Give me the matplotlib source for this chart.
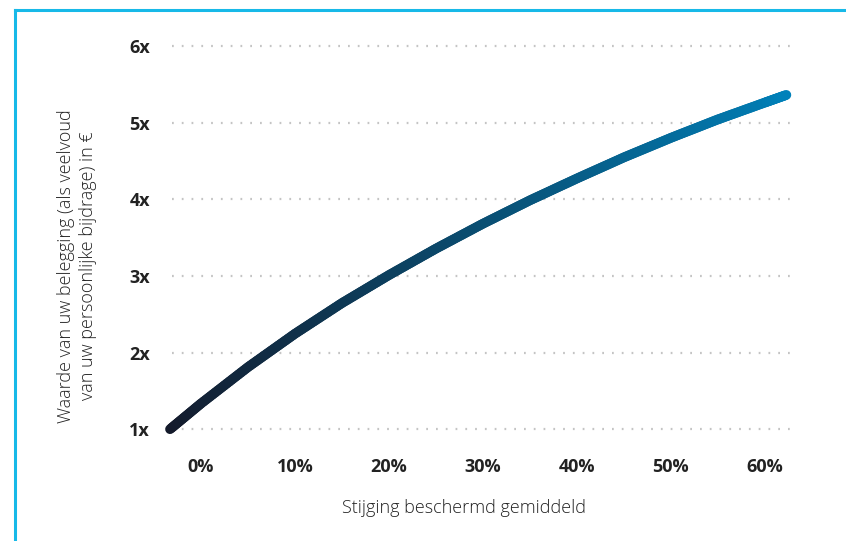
import numpy as np
import matplotlib.pyplot as plt
from matplotlib.collections import LineCollection
from matplotlib.lines import Line2D
from matplotlib.colors import LinearSegmentedColormap

plt.rcParams['font.family'] = ['Open Sans', 'DejaVu Sans']

# values
growth = [-3.3, 0, 5, 10, 15, 20, 25, 30, 35, 40, 45, 50, 55, 60, 62.3]
multiple = [1.00, 1.335, 1.81, 2.245, 2.645, 3.01, 3.355, 3.68, 3.985, 4.27, 4.545, 4.80, 5.04, 5.26, 5.36]
xticks = [0, 10, 20, 30, 40, 50, 60]
xlabels = ['0%', '10%', '20%', '30%', '40%', '50%', '60%']
yticks = [1, 2, 3, 4, 5, 6]
ylabels = ['1x', '2x', '3x', '4x', '5x', '6x']

fig = plt.figure(figsize=(8.46, 5.41), dpi=100)
ax = fig.add_axes([0.2033, 0.1996, 0.734, 0.7227])

# gradient line: split each straight segment into short pieces for the colour ramp
xs, ys = [], []
for i in range(len(growth) - 1):
    t = np.linspace(0, 1, 20, endpoint=False)
    xs.extend(growth[i] + t * (growth[i + 1] - growth[i]))
    ys.extend(multiple[i] + t * (multiple[i + 1] - multiple[i]))
xs.append(growth[-1]); ys.append(multiple[-1])
pts = np.array([xs, ys]).T.reshape(-1, 1, 2)
segs = np.concatenate([pts[:-1], pts[1:]], axis=1)
cmap = LinearSegmentedColormap.from_list('g', ['#141a2b', '#0a4e72', '#0081ba'])
lc = LineCollection(segs, cmap=cmap, linewidth=7, capstyle='round', joinstyle='round', zorder=3)
lc.set_array(np.linspace(0, 1, len(segs)))
lc.set_clip_on(False)
ax.add_collection(lc)

ax.set_xlim(-3.09, 63.0)
ax.set_ylim(0.95, 6.05)
for y in yticks:
    ax.axhline(y, color='#c4c4c4', linewidth=1.6, linestyle=(0, (0.8, 3.6)), zorder=1)

ax.set_xticks(xticks, xlabels)
ax.set_yticks(yticks, ylabels)
ax.tick_params(length=0, labelsize=13, colors='#222222')
ax.tick_params(axis='x', pad=18)
ax.tick_params(axis='y', pad=16)
for lab in ax.get_xticklabels() + ax.get_yticklabels():
    lab.set_fontweight('bold')
for s in ax.spines.values():
    s.set_visible(False)

fig.text(0.091, 0.508, 'Waarde van uw belegging (als veelvoud\nvan uw persoonlijke bijdrage) in €',
         rotation=90, ha='center', va='center', fontsize=13, color='#222222',
         fontweight='light', linespacing=1.3)
fig.text(0.548, 0.061, 'Stijging beschermd gemiddeld', ha='center', va='center',
         fontsize=13, color='#222222', fontweight='light')

# cyan frame on left and top
fig.add_artist(Line2D([14.5 / 846, 14.5 / 846], [0, 1 - 9.5 / 541], color='#17b9e8', linewidth=2.2, transform=fig.transFigure))
fig.add_artist(Line2D([14.5 / 846, 1], [1 - 9.5 / 541, 1 - 9.5 / 541], color='#17b9e8', linewidth=2.2, transform=fig.transFigure))

fig.savefig('out.png', dpi=100)
